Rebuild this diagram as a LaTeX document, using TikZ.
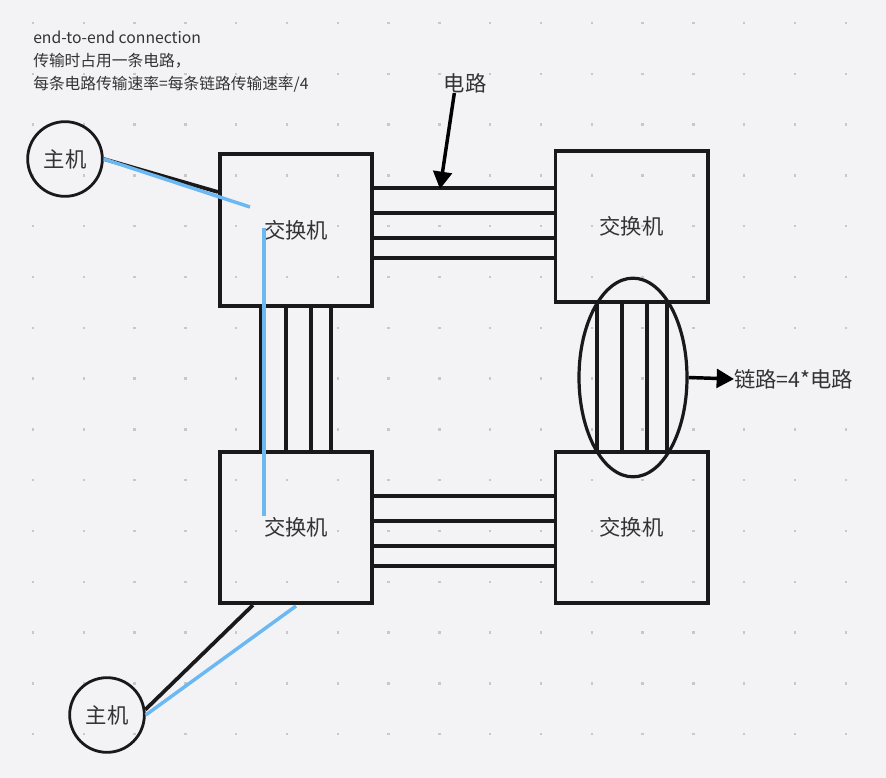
\documentclass[tikz,border=0pt]{standalone}
\usepackage{fontspec}
\setmainfont{Noto Sans CJK SC}
\usetikzlibrary{arrows.meta,shapes.geometric}
\definecolor{bgcol}{HTML}{F3F3F5}
\definecolor{dotcol}{HTML}{C8C8CA}
\definecolor{txtcol}{HTML}{333333}
\definecolor{routecol}{HTML}{6CB8F2}
\begin{document}
\begin{tikzpicture}[x=0.75pt, y=-0.75pt,
        switchbox/.style={rectangle, draw=black!90, line width=2.8pt, minimum width=114.2pt, minimum height=113.5pt, text=txtcol, font=\fontsize{16}{18}\selectfont},
        host/.style={circle, draw=black!90, line width=2.1pt, minimum size=56pt, inner sep=0pt, text=txtcol, font=\fontsize{16}{18}\selectfont},
        bundle/.style={ellipse, draw=black!90, line width=2.4pt, minimum width=81pt, minimum height=149pt},
        wire/.style={line width=2.8pt, black!90},
        route/.style={line width=2.6pt, routecol},
        arrow/.style={line width=2.6pt, -{Triangle[length=13pt,width=14pt]}},
        caption/.style={text=txtcol, font=\fontsize{16}{18}\selectfont, inner sep=0pt}
    ]
        \useasboundingbox (0,0) rectangle (886,778);
        \fill[bgcol] (0,0) rectangle (886,778);
        \foreach \i in {0,...,16}
            \foreach \j in {0,...,14}
                \fill[dotcol] (31.8+50.8*\i, 21.8+50.8*\j) rectangle ++(2.4,2.4);

        \node[caption, anchor=north west, align=left, font=\fontsize{11.8}{17.25}\selectfont] (notes) at (33,31)
            {end-to-end connection\\传输时占用一条电路，\\每条电路传输速率=每条链路传输速率/4};

        \node[switchbox] (sw1) at (296,230) {交换机};
        \node[switchbox] (sw2) at (631.5,226.5) {交换机};
        \node[switchbox] (sw3) at (296,527.5) {交换机};
        \node[switchbox] (sw4) at (631.5,527.5) {交换机};

        \node[host] (host1) at (65,159) {主机};
        \node[host] (host2) at (107,715) {主机};

        % circuits between the switches
        \foreach \y in {188,213,238,258}
            \draw[wire] (sw1.east |- 0,\y) -- (sw2.west |- 0,\y);
        \foreach \y in {496,521,546,566}
            \draw[wire] (sw3.east |- 0,\y) -- (sw4.west |- 0,\y);
        \foreach \x in {261,286,311,331}
            \draw[wire] (sw1.south -| \x,0) -- (sw3.north -| \x,0);
        \foreach \x in {597,622,647,667}
            \draw[wire] (sw2.south -| \x,0) -- (sw4.north -| \x,0);

        \node[bundle] (link) at (633,377.5) {};
        \node[caption, anchor=west] (linklabel) at (734,379) {链路=4*电路};
        \draw[arrow] (link.east) -- (linklabel.west);

        \node[caption] (circlabel) at (465,83) {电路};
        \coordinate (hit) at (440,189);
        \draw[arrow] ([xshift=-8pt]circlabel.south) -- (hit);

        % hosts to switches
        \coordinate (r1) at (250,207);
        \coordinate (r2) at (264,228);
        \coordinate (r3) at (264,516);
        \coordinate (r4) at (296,606);
        \draw[wire] (host1.east) -- (sw1.west |- 0,192);
        \draw[route] (host1.east) -- (r1);
        \draw[route] (r2) -- (r3);
        \draw[wire] (host2.8) -- (sw3.south -| 253,0);
        \draw[route] (host2.east) -- (r4);
    \end{tikzpicture}
\end{document}
